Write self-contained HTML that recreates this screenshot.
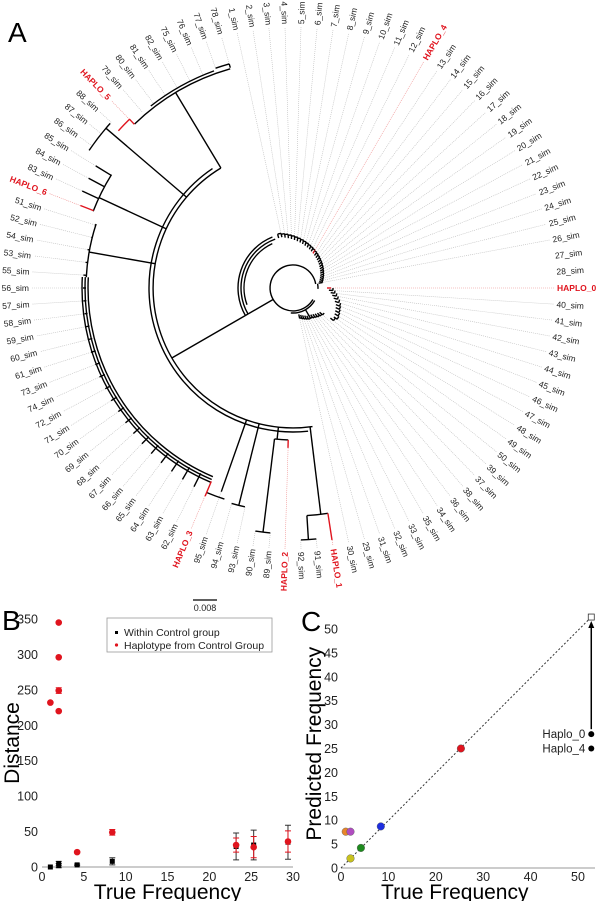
<!DOCTYPE html>
<html><head><meta charset="utf-8">
<style>
html,body{margin:0;padding:0;background:#fff;}
svg{display:block;font-family:"Liberation Sans",sans-serif;}
</style></head>
<body>
<svg id="fig" width="600" height="901" viewBox="0 0 600 901" xmlns="http://www.w3.org/2000/svg">
<g id="tree"></g>
<g id="chartB"></g>
<g id="chartC"></g>
</svg>
<script>
// ---------- Panel A: tree ----------
const leafNames = ["HAPLO_0","40_sim","41_sim","42_sim","43_sim","44_sim","45_sim","46_sim","47_sim","48_sim","49_sim","50_sim",
"39_sim","37_sim","38_sim","36_sim","34_sim","35_sim","33_sim","32_sim","31_sim","29_sim","30_sim",
"HAPLO_1","91_sim","92_sim","HAPLO_2","89_sim","90_sim","93_sim","94_sim","95_sim","HAPLO_3",
"62_sim","63_sim","64_sim","65_sim","66_sim","67_sim","68_sim","69_sim","70_sim","71_sim","72_sim","74_sim","73_sim",
"61_sim","60_sim","59_sim","58_sim","57_sim","56_sim","55_sim","53_sim","54_sim","52_sim","51_sim",
"HAPLO_6","83_sim","84_sim","85_sim","86_sim","87_sim","88_sim","HAPLO_5","79_sim","80_sim","81_sim","82_sim",
"75_sim","76_sim","77_sim","78_sim","1_sim","2_sim","3_sim","4_sim","5_sim","6_sim","7_sim","8_sim","9_sim","10_sim","11_sim","12_sim",
"HAPLO_4","13_sim","14_sim","15_sim","16_sim","17_sim","18_sim","19_sim","20_sim","21_sim","22_sim","23_sim","24_sim","25_sim","26_sim","27_sim","28_sim"];
const tipR = [38,40,42,44,46,48,50,51,52,53,54,52,
40,39,38,37,36,35,35,34,33,32,31,
255,252,252,160,246,246,224,224,216,226,
222,221,220,219,218,217,216,215,214,214,213,213,212,
212,211,211,210,210,210,210,209,209,208,208,
228,232,232,232,246,246,246,235,232,232,232,232,
232,232,232,233,56,55,54,53,52,51,50,49,48,47,46,45,
44,43,42,41,40,39,38,37,36,35,34,33,32,31,30];
const CX=293, CY=288, RL=264, N=leafNames.length, STEP=360/N;
const NS="http://www.w3.org/2000/svg";
function mk(tag, attrs, parent){const e=document.createElementNS(NS,tag);for(const k in attrs)e.setAttribute(k,attrs[k]);parent.appendChild(e);return e;}
function pt(a,r){const t=a*Math.PI/180;return [CX+r*Math.cos(t),CY+r*Math.sin(t)];}
function arcD(r,a1,a2){const p1=pt(a1,r),p2=pt(a2,r);const large=Math.abs(a2-a1)>180?1:0;const sw=a2>a1?1:0;return `M${p1[0].toFixed(1)},${p1[1].toFixed(1)}A${r},${r} 0 ${large} ${sw} ${p2[0].toFixed(1)},${p2[1].toFixed(1)}`;}
function radD(a,r1,r2){const p1=pt(a,r1),p2=pt(a,r2);return `M${p1[0].toFixed(1)},${p1[1].toFixed(1)}L${p2[0].toFixed(1)},${p2[1].toFixed(1)}`;}
const tree=document.getElementById('tree');
const guides=mk('g',{},tree);
const branches=mk('g',{fill:'none',stroke:'#000','stroke-width':1.4},tree);
const labels=mk('g',{'font-size':'8.5','fill':'#222'},tree);
leafNames.forEach((nm,i)=>{
  const a=i*STEP, isH=nm.startsWith('HAPLO');
  const g=mk('path',{d:radD(a,tipR[i],RL-3),stroke:isH?'#e88':'#bbb','stroke-width':0.6,'stroke-dasharray':'1,1',fill:'none'},guides);
  
  
  let an=((a%360)+360)%360;
  const right=(an<=90||an>=270);
  const p=pt(a,RL);
  const t=mk('text',{x:p[0].toFixed(1),y:p[1].toFixed(1),'dominant-baseline':'central','text-anchor':right?'start':'end',transform:`rotate(${right?a:a+180} ${p[0].toFixed(1)} ${p[1].toFixed(1)})`},labels);
  if(isH){t.setAttribute('fill','#e0141e');t.setAttribute('font-weight','bold');t.setAttribute('font-size','8.5');}
  t.textContent=nm;
  
  
});
function br(d,red,w){const e=mk('path',{d:d},branches);if(red)e.setAttribute('stroke','#e0141e');if(w)e.setAttribute('stroke-width',w);return e;}
// inner spiral
br(arcD(23,30,350));
br(arcD(25,350,362));
br(radD(150,23,52));
br(arcD(52,150,250));br(arcD(55,150,248));br(arcD(49,160,245));
for(let i=72;i<N;i++){const a=i*STEP;br(arcD(tipR[i],a-STEP,a));br(radD(a,tipR[i]-4,tipR[i]),leafNames[i].startsWith('HAPLO'));}
br(radD(254,52,56));
br(arcD(25,30,95));
for(let i=0;i<=22;i++){const a=i*STEP;if(i>0)br(arcD(tipR[i],a-STEP,a));br(radD(a,tipR[i]-4,tipR[i]),leafNames[i].startsWith('HAPLO'));}
br(radD(60,25,35));
// big left clade
br(radD(150,52,140));
br(arcD(140,82,239));br(arcD(144,84,236));
br(radD(83,140,228));br(arcD(228,81.2,86.5));br(radD(81.2,228,255),true);br(radD(86.5,228,252));br(arcD(252,84.7,88.2));
br(radD(96,140,152));br(arcD(152,91.8,97));br(radD(91.8,152,160),true);br(radD(97,152,246));br(arcD(246,95.3,98.8));
br(radD(104,140,224));br(arcD(224,102.4,105.9));
br(radD(109.4,140,216));
br(radD(190,140,207));
[205,208,211].forEach(r=>br(arcD(r,113,183)));
for(let i=33;i<=56;i++){const a=i*STEP;br(radD(a,207,tipR[i]));}
br(arcD(207,183,198));
br(arcD(222,108,113));br(radD(112.9,210,226),true);
br(radD(205,140,214));br(arcD(214,201,212));br(radD(201.2,214,228),true);
for(let i=58;i<=60;i++){const a=i*STEP;br(radD(a,214,tipR[i]));}
br(radD(220.5,140,246));br(arcD(246,214,222));
br(radD(239,140,228));br(arcD(228,226,254));br(arcD(231,232,250));
br(radD(225.9,228,235),true);br(arcD(235,222,226),true);
const LA=mk('text',{x:8,y:42,'font-size':'28',fill:'#000'},tree);LA.textContent='A';

const sb=mk('line',{x1:193,y1:600,x2:217,y2:600,stroke:'#000','stroke-width':1.2},tree);

const sbt=mk('text',{x:205,y:611,'font-size':'9','text-anchor':'middle',fill:'#222'},tree);sbt.textContent='0.008';


// ---------- Panel B ----------
const bRedX=[1,2,2,2,2,4.2,8.4,23.2,25.3,29.4];
const bRedY=[232,345,296,249,220,21,49,31,28,36];
const bRedErr=[0,0,0,4,0,0,4,10,15,15];
const bBlkX=[1,2,2,4.2,8.4,23.2,25.3,29.4];
const bBlkY=[0,2,5,3,8,29,31,35];
const bBlkErr=[0,3,3,1,5,19,21,24];
const bXTicks=[0,5,10,15,20,25,30];
const bYTicks=[0,50,100,150,200,250,300,350];
const B=document.getElementById('chartB');
const bx=v=>42+v*(293-42)/30, by=v=>867-v*(867-619)/350;
let e;
e=mk('line',{x1:42,y1:867,x2:293,y2:867,stroke:'#bbb','stroke-width':1.5},B);
bXTicks.forEach(v=>{const t=mk('text',{x:bx(v),y:881,'font-size':'12.5','text-anchor':'middle',fill:'#222'},B);t.textContent=v;});
bYTicks.forEach(v=>{const t=mk('text',{x:38,y:by(v)+4.5,'font-size':'12.5','text-anchor':'end',fill:'#222'},B);t.textContent=v;});
e=mk('text',{x:bx(15),y:899,'font-size':'21','text-anchor':'middle',fill:'#000'},B);e.textContent='True Frequency';
e=mk('text',{x:19,y:by(175),'font-size':'21','text-anchor':'middle',fill:'#000',transform:`rotate(-90 19 ${by(175)})`},B);e.textContent='Distance';
e=mk('text',{x:2,y:630,'font-size':'28',fill:'#000'},B);e.textContent='B';
function errbar(x,y,er,col,g){if(!er)return;const p=mk('path',{d:`M${bx(x)},${by(y-er)}L${bx(x)},${by(y+er)}M${bx(x)-3},${by(y-er)}h6M${bx(x)-3},${by(y+er)}h6`,stroke:col,'stroke-width':1,fill:'none'},g);}
bBlkX.forEach((x,i)=>{errbar(x,bBlkY[i],bBlkErr[i],'#333',B);const r=mk('rect',{x:bx(x)-2.5,y:by(bBlkY[i])-2.5,width:5,height:5,fill:'#000'},B);});
bRedX.forEach((x,i)=>{errbar(x,bRedY[i],bRedErr[i],'#e0141e',B);const c=mk('circle',{cx:bx(x),cy:by(bRedY[i]),r:3.3,fill:'#e0141e'},B);});
const lg=mk('g',{},B);
mk('rect',{x:107,y:618,width:165,height:34,fill:'#fff',stroke:'#999','stroke-width':0.8},lg);
e=mk('rect',{x:115,y:631,width:3,height:3,fill:'#000'},lg);
e=mk('text',{x:124,y:636,'font-size':'10.5',fill:'#222'},lg);e.textContent='Within Control group';
e=mk('circle',{cx:116.5,cy:645,r:1.6,fill:'#e0141e'},lg);
e=mk('text',{x:124,y:649,'font-size':'10.5',fill:'#222'},lg);e.textContent='Haplotype from Control Group';

// ---------- Panel C ----------
const cTrueX=[2,4.2,8.4,25.3,1,2];
const cPredY=[2,4.2,8.7,25,7.6,7.6];
const cColors=['#c8c21e','#1e8a1e','#1e2ee0','#e0141e','#e8862a','#b04cc0'];
const cOutX=[52.8,52.8];
const cOutY=[28,25];
const cOutNames=['Haplo_0','Haplo_4'];
const cXTicks=[0,10,20,30,40,50];
const cYTicks=[0,5,10,15,20,25,30,35,40,45,50];
const C=document.getElementById('chartC');
const cx=v=>341+v*(578-341)/50, cy=v=>868-v*(868-629)/50;
e=mk('line',{x1:341,y1:868,x2:595,y2:868,stroke:'#bbb','stroke-width':1.5},C);
cXTicks.forEach(v=>{const t=mk('text',{x:cx(v),y:881,'font-size':'12.5','text-anchor':'middle',fill:'#222'},C);t.textContent=v;});
cYTicks.forEach(v=>{const t=mk('text',{x:338,y:cy(v)+4.5,'font-size':'12.5','text-anchor':'end',fill:'#222'},C);t.textContent=v;});
e=mk('text',{x:cx(24),y:899,'font-size':'21','text-anchor':'middle',fill:'#000'},C);e.textContent='True Frequency';
e=mk('text',{x:321,y:cy(26),'font-size':'21','text-anchor':'middle',fill:'#000',transform:`rotate(-90 321 ${cy(26)})`},C);e.textContent='Predicted Frequency';
e=mk('text',{x:301,y:631,'font-size':'28',fill:'#000'},C);e.textContent='C';
e=mk('line',{x1:cx(0),y1:cy(0),x2:cx(52.8),y2:cy(52.5),stroke:'#333','stroke-width':1,'stroke-dasharray':'2,2'},C);
e=mk('rect',{x:cx(52.8)-3,y:cy(52.5)-3,width:6,height:6,fill:'#fff',stroke:'#333','stroke-width':0.8},C);
e=mk('line',{x1:cx(52.8),y1:cy(cOutY[0])-5,x2:cx(52.8),y2:cy(52.5)+9,stroke:'#000','stroke-width':1.5},C);
e=mk('path',{d:`M${cx(52.8)},${cy(52.5)+4}l-3,7h6z`,fill:'#000'},C);
cOutX.forEach((x,i)=>{const c=mk('circle',{cx:cx(x),cy:cy(cOutY[i]),r:3,fill:'#000'},C);
 const t=mk('text',{x:cx(x)-6,y:cy(cOutY[i])+4,'font-size':'11.5','text-anchor':'end',fill:'#222'},C);t.textContent=cOutNames[i];});
cTrueX.forEach((x,i)=>{const c=mk('circle',{cx:cx(x),cy:cy(cPredY[i]),r:3.8,fill:cColors[i],stroke:'#555','stroke-width':0.4},C);});
</script>
</body></html>
